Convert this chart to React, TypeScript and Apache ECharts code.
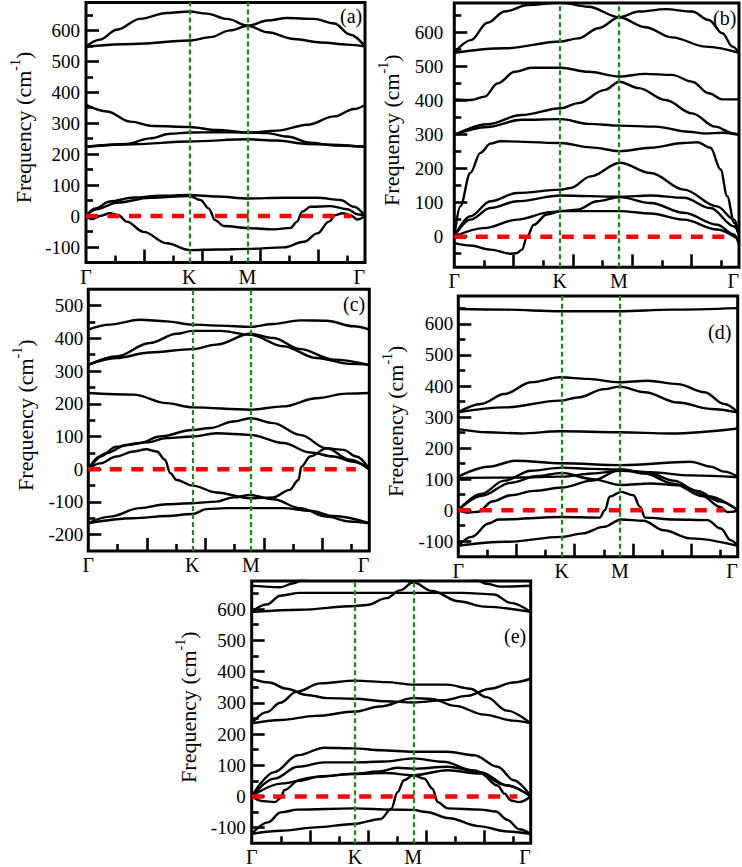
import React, { useEffect, useRef } from "react";
import * as echarts from "echarts";

const FONT = "Liberation Serif";

// path coordinates
const K_POS = 1.776;
const M_POS = 2.776;
const X_MAX = 4.8;
const RED_END = 4.57;
const xLabelValues = [0, K_POS, M_POS, X_MAX];
const xMajorTicks = [1, 2, 3, 4];
const xMinorTicks = [0.5, 1.5, 2.5, 3.5, 4.5];

// y ranges / tick labels
const yRangeA = [-150, 690];
const yLabelsA = [-100, 0, 100, 200, 300, 400, 500, 600];
const yMinorA = [-50, 50, 150, 250, 350, 450, 550, 650];
const yRangeB = [-90, 686];
const yLabelsB = [0, 100, 200, 300, 400, 500, 600];
const yMinorB = [-50, 50, 150, 250, 350, 450, 550, 650];
const yRangeC = [-250, 550];
const yLabelsC = [-200, -100, 0, 100, 200, 300, 400, 500];
const yMinorC = [-150, -50, 50, 150, 250, 350, 450];
const yRangeD = [-150, 690];
const yLabelsD = [-100, 0, 100, 200, 300, 400, 500, 600];
const yMinorD = [-50, 50, 150, 250, 350, 450, 550, 650];
const yRangeE = [-150, 690];
const yLabelsE = [-100, 0, 100, 200, 300, 400, 500, 600];
const yMinorE = [-50, 50, 150, 250, 350, 450, 550, 650];

// ---- panel (a) bands ----
const aTop1 = [[0,548],[0.24,570],[0.53,602],[0.93,637],[1.39,656],[1.78,661],[2.08,654],[2.43,637],[2.79,615],[3.12,594],[3.58,572],[4.04,561],[4.5,554],[4.8,548]];
const aTop2 = [[0,548],[0.82,556],[1.78,567],[2.14,578],[2.48,600],[2.79,615],[3.12,632],[3.46,640],[3.92,637],[4.27,622],[4.55,586],[4.8,548]];
const aMid1 = [[0,359],[0.36,338],[0.76,305],[1.16,291],[1.78,288],[2.25,278],[2.79,270],[3.29,276],[3.81,295],[4.27,322],[4.61,346],[4.8,359]];
const aMid2 = [[0,224],[0.7,233],[1.1,251],[1.45,266],[1.78,270],[2.25,271],[2.79,270],[3.12,268],[3.46,257],[3.86,237],[4.27,228],[4.8,224]];
const aMid3 = [[0,224],[0.82,232],[1.78,241],[2.79,248],[3.29,244],[3.81,233],[4.8,224]];
const aLow1 = [[0,0],[0.16,25],[0.41,47],[0.82,60],[1.28,66],[1.78,68],[2.25,63],[2.79,57],[3.4,59],[3.98,59],[4.38,52],[4.61,30],[4.8,0]];
const aLow2 = [[0,0],[0.18,22],[0.53,43],[1.1,59],[1.78,65],[1.97,52],[2.11,25],[2.22,-13],[2.37,-32],[2.79,-39],[3.23,-43],[3.52,-38],[3.63,-18],[3.72,14],[3.86,30],[4.21,32],[4.5,22],[4.67,6],[4.8,0]];
const aLow3 = [[0,0],[0.1,-10],[0.24,0],[0.41,9],[0.56,3],[0.7,-18],[0.99,-51],[1.39,-88],[1.78,-110],[2.25,-108],[2.79,-106],[3.4,-101],[3.75,-83],[3.98,-56],[4.18,-18],[4.29,3],[4.41,9],[4.55,3],[4.67,-11],[4.8,0]];

// ---- panel (b) bands ----
const bTop1 = [[0,540],[0.28,577],[0.56,628],[0.85,661],[1.24,680],[1.8,687],[2.26,675],[2.78,644],[3.22,615],[3.67,585],[4.24,558],[4.8,540]];
const bTop2 = [[0,540],[0.85,553],[1.8,573],[2.09,582],[2.43,612],[2.78,644],[3.11,661],[3.56,668],[4.01,661],[4.29,636],[4.52,597],[4.69,558],[4.8,540]];
const bMid1 = [[0,403],[0.28,401],[0.51,411],[0.73,450],[1.02,484],[1.3,496],[1.8,496],[2.26,484],[2.78,470],[3.22,478],[3.67,475],[4.01,455],[4.29,421],[4.52,403],[4.8,403]];
const bMid2 = [[0,299],[0.56,330],[1.13,357],[1.8,377],[2.09,392],[2.54,431],[2.78,455],[3.11,436],[3.56,401],[4.01,362],[4.4,323],[4.69,304],[4.8,299]];
const bMid3 = [[0,299],[0.56,322],[1.13,343],[1.8,345],[2.26,331],[2.78,326],[3.39,323],[3.95,308],[4.24,303],[4.52,305],[4.8,299]];
const bMid4 = [[0,0],[0.1,89],[0.27,187],[0.44,246],[0.61,273],[0.78,280],[1.79,275],[2.3,262],[2.79,251],[3.31,261],[3.87,275],[4.1,277],[4.32,261],[4.49,197],[4.6,119],[4.72,40],[4.8,0]];
const bLow1 = [[0,0],[0.27,60],[0.61,104],[1.06,128],[1.79,138],[1.96,143],[2.3,177],[2.79,217],[3.31,187],[3.87,138],[4.43,89],[4.72,50],[4.8,10]];
const bLow2 = [[0,0],[0.27,50],[0.61,84],[1.06,104],[1.79,121],[2.79,117],[3.31,121],[3.87,114],[4.32,84],[4.72,30],[4.8,6]];
const bLow3 = [[0,-19],[0.27,-26],[0.61,-38],[0.95,-50],[1.06,-48],[1.14,-38],[1.23,1],[1.34,35],[1.56,65],[1.79,75],[2.07,79],[2.41,104],[2.79,116],[3.31,99],[3.87,70],[4.43,35],[4.72,6],[4.8,-24]];
const bLow4 = [[0,0],[0.5,25],[1.06,50],[1.62,72],[1.79,75],[2.79,75],[3.31,68],[3.87,50],[4.43,21],[4.8,-9]];

// ---- panel (c) bands ----
const cTop1 = [[0,427],[0.37,442],[0.88,457],[1.34,452],[1.78,442],[2.25,439],[2.77,435],[3.16,444],[3.62,455],[4.07,454],[4.53,437],[4.8,427]];
const cTop2 = [[0,319],[0.48,345],[1.05,386],[1.51,414],[1.78,423],[2.25,423],[2.77,411],[3.33,376],[3.9,340],[4.47,322],[4.8,319]];
const cTop3 = [[0,319],[0.48,340],[1.05,357],[1.78,367],[2.19,381],[2.77,414],[3.16,401],[3.62,367],[4.19,335],[4.8,319]];
const cMid1 = [[0,233],[0.77,228],[1.34,202],[1.78,189],[2.77,182],[3.33,192],[3.9,217],[4.41,231],[4.8,233]];
const cLow1 = [[0,0],[0.2,39],[0.48,69],[0.88,80],[1.22,100],[1.78,120],[2.08,126],[2.48,146],[2.77,156],[3.16,141],[3.62,105],[4.07,64],[4.47,29],[4.8,0]];
const cLow2 = [[0,0],[0.31,49],[0.65,74],[0.99,82],[1.34,95],[1.78,100],[2.19,110],[2.77,105],[3.33,80],[3.79,51],[4.19,39],[4.53,23],[4.8,0]];
const cLow3 = [[0,0],[0.2,18],[0.48,39],[0.77,54],[0.99,61],[1.17,54],[1.31,29],[1.4,-12],[1.51,-33],[1.78,-50],[2.19,-71],[2.77,-89],[3.16,-86],[3.44,-63],[3.59,-33],[3.64,8],[3.79,39],[4.07,64],[4.36,59],[4.58,39],[4.8,0]];
const cNeg1 = [[0,-165],[0.37,-145],[0.88,-119],[1.34,-107],[1.78,-104],[2.19,-99],[2.48,-86],[2.77,-79],[3.16,-92],[3.62,-119],[4.07,-145],[4.47,-160],[4.8,-165]];
const cNeg2 = [[0,-165],[0.77,-150],[1.34,-143],[1.78,-137],[2.02,-122],[2.36,-119],[2.77,-119],[3.33,-119],[3.79,-127],[4.19,-143],[4.8,-165]];

// ---- panel (d) bands ----
const dTop1 = [[0,648],[0.8,646],[1.75,641],[2.77,641],[3.65,646],[4.8,651]];
const dMid1 = [[0,315],[0.39,342],[0.79,374],[1.25,412],[1.75,428],[2.22,423],[2.77,412],[3.25,417],[3.77,406],[4.23,380],[4.57,342],[4.8,315]];
const dMid2 = [[0,315],[0.79,331],[1.75,353],[2.05,363],[2.51,390],[2.77,398],[3.2,380],[3.77,347],[4.34,326],[4.8,315]];
const dMid3 = [[0,261],[0.5,251],[1.08,247],[1.75,254],[2.77,251],[3.65,247],[4.8,263]];
const dLow1 = [[0,108],[0.52,140],[0.98,159],[1.78,151],[2.8,145],[3.99,156],[4.34,140],[4.57,124],[4.8,108]];
const dLow2 = [[0,104],[1.0,105],[1.78,108],[2.3,118],[2.8,127],[3.3,122],[4.0,112],[4.8,106]];
const dLow3 = [[0,0],[0.39,52],[0.79,95],[1.25,127],[1.78,137],[2.3,133],[2.8,131],[3.3,118],[3.7,95],[4.1,62],[4.5,28],[4.8,0]];
const dLow4 = [[0,0],[0.4,46],[0.9,88],[1.36,110],[1.78,120],[2.3,100],[2.8,81],[3.3,86],[3.8,80],[4.3,45],[4.8,0]];
const dLow5 = [[0,0],[0.17,-8],[0.35,-5],[0.58,28],[0.9,48],[1.3,62],[1.78,73],[2.3,95],[2.8,131],[3.2,118],[3.7,85],[4.2,45],[4.5,10],[4.62,-6],[4.72,-5],[4.8,0]];
const dNeg1 = [[0,-115],[0.23,-86],[0.52,-43],[0.69,-30],[1.78,-22],[2.43,-24],[2.52,0],[2.6,43],[2.8,59],[3.01,48],[3.12,11],[3.21,-24],[3.7,-30],[4.28,-32],[4.51,-59],[4.68,-97],[4.8,-115]];
const dNeg2 = [[0,-115],[0.81,-102],[1.78,-86],[2.14,-75],[2.49,-54],[2.8,-30],[3.18,-34],[3.53,-65],[3.99,-91],[4.8,-115]];

// ---- panel (e) bands ----
const eTop1 = [[0,675],[0.49,670],[0.72,683],[0.89,694],[1.1,715],[2.2,720],[2.55,700],[2.78,686],[3.0,700],[3.3,718],[3.6,712],[3.85,695],[4.04,681],[4.27,672],[4.8,675]];
const eTop2 = [[0,591],[0.26,615],[0.49,643],[0.83,652],[1.78,652],[2.78,652],[3.63,652],[4.17,647],[4.45,620],[4.8,591]];
const eTop3 = [[0,591],[0.83,598],[1.78,610],[1.98,613],[2.32,635],[2.55,660],[2.78,686],[3.1,658],[3.56,625],[4.0,608],[4.8,591]];
const eMid1 = [[0,234],[0.26,270],[0.49,300],[0.77,335],[1.18,362],[1.78,371],[2.32,366],[2.78,358],[3.36,358],[3.76,345],[4.04,318],[4.39,275],[4.8,234]];
const eMid2 = [[0,377],[0.3,365],[0.6,345],[0.95,325],[1.3,315],[1.78,313],[2.3,305],[2.78,301],[3.3,308],[3.7,322],[4.1,345],[4.5,365],[4.8,377]];
const eMid3 = [[0,234],[0.5,245],[1.1,258],[1.78,272],[2.2,288],[2.78,315],[3.1,312],[3.5,290],[4.0,262],[4.5,243],[4.8,234]];
const eLow1 = [[0,0],[0.39,78],[0.79,132],[1.25,156],[1.76,154],[2.22,148],[2.78,143],[3.37,143],[3.83,132],[4.23,95],[4.51,52],[4.8,0]];
const eLow2 = [[0,0],[0.39,57],[0.79,95],[1.25,109],[1.76,109],[2.3,112],[2.78,122],[3.3,111],[3.8,84],[4.4,35],[4.8,0]];
const eLow3 = [[0,0],[0.5,41],[1.1,62],[1.76,73],[2.2,80],[2.5,92],[2.78,89],[3.37,95],[3.94,78],[4.4,35],[4.8,0]];
const eLow4 = [[0,0],[0.2,-15],[0.4,-18],[0.5,-5],[0.56,20],[0.8,50],[1.2,65],[1.76,72],[2.3,75],[2.78,68],[3.37,84],[3.94,73],[4.23,35],[4.35,9],[4.46,-13],[4.6,-18],[4.8,0]];
const eNeg1 = [[0,-120],[0.5,-110],[1.1,-99],[1.76,-88],[2.22,-72],[2.4,-40],[2.51,14],[2.62,52],[2.78,68],[2.97,57],[3.11,25],[3.2,-18],[3.37,-38],[3.94,-42],[4.2,-48],[4.4,-75],[4.6,-105],[4.8,-120]];
const eNeg2 = [[0,-120],[0.28,-83],[0.5,-51],[0.79,-42],[1.76,-38],[2.4,-42],[2.78,-43],[3.0,-50],[3.4,-70],[3.9,-95],[4.4,-112],[4.8,-120]];

const panels = [
  { tag: "(a)", box: { left: 86, top: 2.5, width: 279, height: 260 }, yRange: yRangeA, yLabels: yLabelsA, yMinor: yMinorA, labelMargin: 6, tagPos: [340, 6],
    bands: [aTop1, aTop2, aMid1, aMid2, aMid3, aLow1, aLow2, aLow3] },
  { tag: "(b)", box: { left: 454.3, top: 3, width: 284.7, height: 264.3 }, yRange: yRangeB, yLabels: yLabelsB, yMinor: yMinorB, labelMargin: 11, tagPos: [713, 8],
    bands: [bTop1, bTop2, bMid1, bMid2, bMid3, bMid4, bLow1, bLow2, bLow3, bLow4] },
  { tag: "(c)", box: { left: 88.3, top: 289.3, width: 281, height: 261.7 }, yRange: yRangeC, yLabels: yLabelsC, yMinor: yMinorC, labelMargin: 5, tagPos: [343, 294],
    bands: [cTop1, cTop2, cTop3, cMid1, cLow1, cLow2, cLow3, cNeg1, cNeg2] },
  { tag: "(d)", box: { left: 458.3, top: 296, width: 279.4, height: 260.7 }, yRange: yRangeD, yLabels: yLabelsD, yMinor: yMinorD, labelMargin: 5, tagPos: [708, 322],
    bands: [dTop1, dMid1, dMid2, dMid3, dLow1, dLow2, dLow3, dLow4, dLow5, dNeg1, dNeg2] },
  { tag: "(e)", box: { left: 251.7, top: 581, width: 279, height: 262.3 }, yRange: yRangeE, yLabels: yLabelsE, yMinor: yMinorE, labelMargin: 6, tagPos: [504, 626],
    bands: [eTop1, eTop2, eTop3, eMid1, eMid2, eMid3, eLow1, eLow2, eLow3, eLow4, eNeg1, eNeg2] },
];

function xLabelText(v: number): string {
  if (Math.abs(v - K_POS) < 1e-3) return "K";
  if (Math.abs(v - M_POS) < 1e-3) return "M";
  return "\u0393";
}

function yLabelText(v: number): string {
  return String(Math.round(v));
}

function buildOption() {
  const grid: any[] = [];
  const xAxis: any[] = [];
  const yAxis: any[] = [];
  const series: any[] = [];
  const title: any[] = [];
  const tickStyle = { color: "#000", width: 2.6 };

  panels.forEach((p, i) => {
    grid.push({ ...p.box, show: true, borderColor: "#000", borderWidth: 3, backgroundColor: "transparent", containLabel: false, outerBoundsMode: "none" });
    xAxis.push({
      gridIndex: i, type: "value", min: 0, max: X_MAX, position: "bottom",
      axisLine: { show: false, onZero: false },
      axisTick: { show: true, inside: true, length: 13, customValues: xMajorTicks, lineStyle: tickStyle },
      axisLabel: { show: true, customValues: xLabelValues, formatter: xLabelText, fontSize: 20, lineHeight: 20, fontFamily: FONT, color: "#000", margin: 4, alignMaxLabel: "right" },
      splitLine: { show: false },
    });
    xAxis.push({
      gridIndex: i, type: "value", min: 0, max: X_MAX, position: "bottom", offset: 0,
      axisLine: { show: false, onZero: false },
      axisTick: { show: true, inside: true, length: 7, customValues: xMinorTicks, lineStyle: tickStyle },
      axisLabel: { show: false },
      splitLine: { show: false },
    });
    yAxis.push({
      gridIndex: i, type: "value", min: p.yRange[0], max: p.yRange[1], position: "left",
      axisLine: { show: false, onZero: false },
      axisTick: { show: true, inside: true, length: 13, customValues: p.yLabels, lineStyle: tickStyle },
      axisLabel: { show: true, customValues: p.yLabels, formatter: yLabelText, fontSize: 19, fontFamily: FONT, fontStyle: "normal", color: "#000", margin: p.labelMargin },
      splitLine: { show: false },
      name: "{b|Frequency (cm}{sup|-1}{b|)}",
      nameLocation: "middle",
      nameGap: 48,
      nameTextStyle: {
        fontSize: 22, fontFamily: FONT, color: "#000", lineHeight: 30, padding: [0, 0, 0, 10],
        rich: {
          b: { fontSize: 22, fontFamily: FONT, color: "#000", lineHeight: 30 },
          sup: { fontSize: 14, fontFamily: FONT, color: "#000", verticalAlign: "top", lineHeight: 14 },
        },
      },
    });
    yAxis.push({
      gridIndex: i, type: "value", min: p.yRange[0], max: p.yRange[1], position: "left", offset: 0,
      axisLine: { show: false, onZero: false },
      axisTick: { show: true, inside: true, length: 7, customValues: p.yMinor, lineStyle: tickStyle },
      axisLabel: { show: false },
      splitLine: { show: false },
    });
    const xi = i * 2;
    const yi = i * 2;
    p.bands.forEach((b) => {
      series.push({
        type: "line", xAxisIndex: xi, yAxisIndex: yi, data: b, showSymbol: false, symbol: "none",
        smooth: 0.35, smoothMonotone: "x", clip: true, silent: true,
        lineStyle: { color: "#000", width: 2.4 }, z: 2,
      });
    });
    series.push({
      type: "line", xAxisIndex: xi, yAxisIndex: yi, data: [[0, 0], [RED_END, 0]], showSymbol: false, symbol: "none",
      silent: true, z: 4,
      lineStyle: { color: "#ff0000", width: 4.5, type: [12, 9.5] },
      markLine: {
        silent: true, symbol: ["none", "none"], label: { show: false },
        lineStyle: { color: "#1a8a1a", width: 2.2, type: [5, 3] },
        data: [{ xAxis: K_POS }, { xAxis: M_POS }],
      },
    });
    title.push({
      text: p.tag, left: p.tagPos[0], top: p.tagPos[1], padding: 0,
      textStyle: { fontSize: 20, fontFamily: FONT, fontWeight: "normal", color: "#000" },
    });
  });

  return {
    animation: false,
    backgroundColor: "#fff",
    textStyle: { fontFamily: FONT, color: "#000" },
    title, grid, xAxis, yAxis, series,
  };
}

export default function App() {
  const ref = useRef<HTMLDivElement>(null);
  useEffect(() => {
    if (!ref.current) return;
    const chart = echarts.init(ref.current, undefined, { renderer: "svg" });
    chart.setOption(buildOption() as any);
    return () => chart.dispose();
  }, []);
  return (
    <div
      ref={ref}
      style={{ position: "absolute", left: 0, top: 0, width: 742, height: 867, background: "#fff" }}
    />
  );
}
